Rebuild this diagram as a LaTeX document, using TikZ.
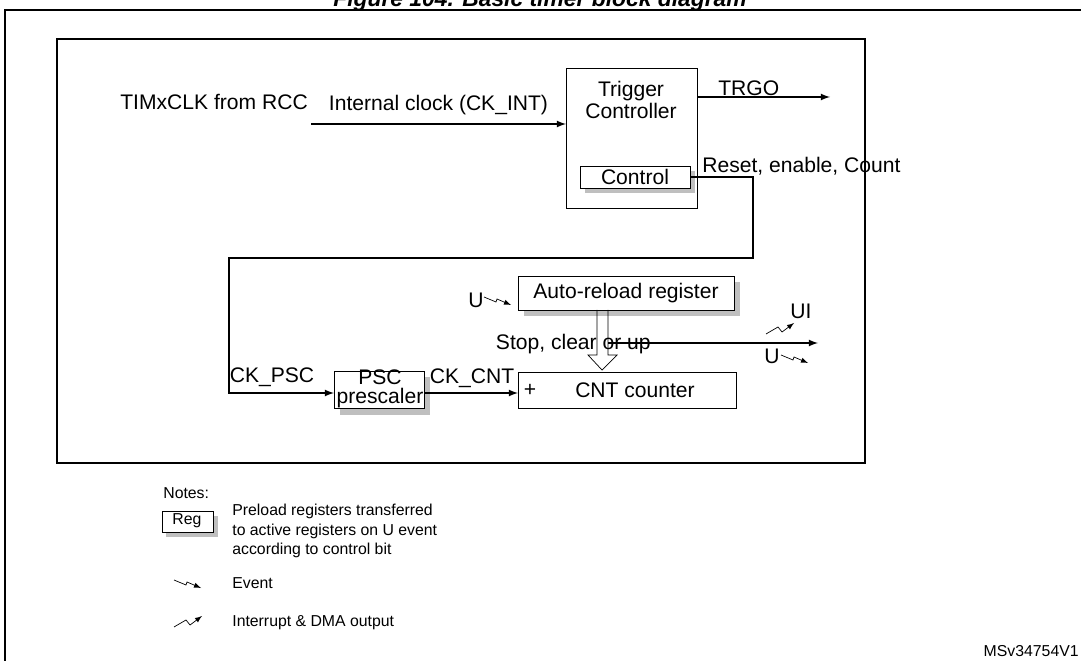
\documentclass[tikz,border=0pt]{standalone}
\usepackage{fontspec}
\setmainfont{Liberation Sans}
\usetikzlibrary{calc,shapes.arrows}

\tikzset{
  blk/.style={draw=black,fill=white,inner sep=0pt},
  shade/.style={fill=black!25,draw=none},
  lbl/.style={inner sep=0pt,font=\fontsize{12}{13}\selectfont},
  note/.style={inner sep=0pt,anchor=west,align=left,font=\fontsize{9}{11}\selectfont},
  sig/.style={-latex,thick},
}
% event / interrupt glyphs
\newcommand{\evtglyph}[1]{\draw[-latex] #1 -- ++(12,5) -- ++(1,-3) -- ++(14,6);}
\newcommand{\irqglyph}[1]{\draw[-latex] #1 -- ++(12,-7) -- ++(4,5) -- ++(12,-9);}

\begin{document}
\begin{tikzpicture}[x=0.02cm,y=-0.02cm]
	\useasboundingbox (0,0) rectangle (1081,661);

    % Frames and title
    \node[font=\bfseries\itshape\fontsize{13}{15}\selectfont] (title) at (540,1) {Figure 104. Basic timer block diagram};
    \draw[thick] (5,670) -- (5,10) -- (1090,10);
    \draw[line width=1.3pt] (57,39) rectangle (865,463);

    % Trigger controller
    \draw[blk] (566,68) rectangle (697,208);
    \node[lbl,align=center] (trig) at (631,100) {Trigger\\Controller};
    \fill[shade] (585,171) rectangle (695,193);
    \draw[blk] (580,166) rectangle (690,188);
    \node[lbl] (ctrl) at (635,177) {Control};
    \coordinate (ctrlout) at (690,177);
    \coordinate (trigin) at (566,124);
    \coordinate (trgo) at (697,97);
    \coordinate (trgoend) at (830,97);

    % Inputs and outputs of the controller
    \node[lbl,anchor=west] (clk) at (120,102) {TIMxCLK from RCC};
    \coordinate (clkout) at (311,124);
    \draw[sig] (clkout) -- (trigin) node[lbl,midway,above=5pt] (ckint) {Internal clock (CK\_INT)};
    \draw[sig] (trgo) -- (trgoend);
    \node[lbl,anchor=west] (trgolbl) at (718,88) {TRGO};
    \node[lbl,anchor=west] (rec) at (702,166) {Reset, enable, Count};

    % Prescaler and counter
    \fill[shade] (340,377) rectangle (430,415);
    \draw[blk] (334,371) rectangle (424,408);
    \node[lbl,align=center,font=\fontsize{12}{11}\selectfont] (psc) at (380,389) {PSC\\prescaler};
    \draw[blk] (518,372) rectangle (736,408);
    \node[lbl] (plus) at (530,390) {+};
    \node[lbl] (cnt) at (635,390) {CNT counter};
    \draw[sig] (ctrlout) -- (753,177) -- (753,258) -- (229,258) -- (229,393) -- (334,393);
    \node[lbl] (ckpsc) at (272,377) {CK\_PSC};
    \draw[sig] (424,393) -- (518,393);
    \node[lbl] (ckcnt) at (472,378) {CK\_CNT};

    % Auto-reload register
    \fill[shade] (524,282) rectangle (740,316);
    \draw[blk] (518,276) rectangle (734,310);
    \node[lbl] (arr) at (626,293) {Auto-reload register};
    \node[lbl] (uin) at (476,300) {U};
    \evtglyph{(484,297)}
    \draw (597,310) -- (597,355) -- (588,355) -- (602,370) -- (617,355) -- (608,355) -- (608,310);
    \node[lbl,anchor=east] (scu) at (651,344) {Stop, clear or up};
    \draw[sig] (608,343) -- (818,343);
    \node[lbl] (ui) at (801,311) {UI};
    \irqglyph{(766,334)}
    \node[lbl] (uout) at (772,356) {U};
    \evtglyph{(781,355)}

    % Notes
    \node[note] (notes) at (163,493) {Notes:};
    \fill[shade] (166,516) rectangle (218,537);
    \draw[blk] (162,511) rectangle (213,532);
    \node[note,anchor=center] (reg) at (187,521) {Reg};
    \node[note] (regtxt) at (232,531) {Preload registers transferred\\to active registers on U event\\according to control bit};
    \evtglyph{(174,580)}
    \node[note] (evt) at (232,583) {Event};
    \irqglyph{(174,627)}
    \node[note] (irq) at (232,623) {Interrupt \& DMA output};
    \node[note,anchor=east] (ver) at (1079,651) {MSv34754V1};
\end{tikzpicture}
\end{document}
